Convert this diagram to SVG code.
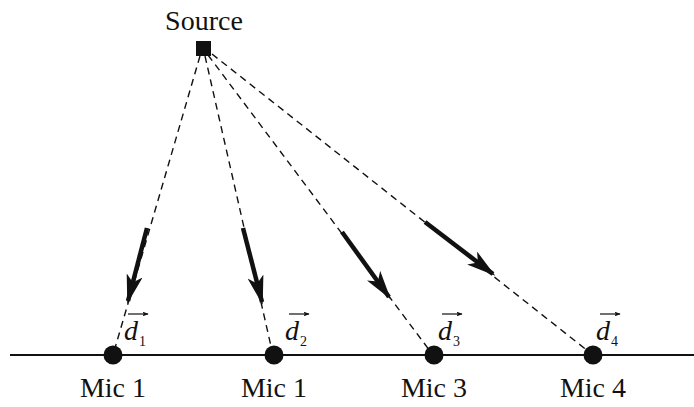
<svg xmlns="http://www.w3.org/2000/svg" width="694" height="407" viewBox="0 0 694 407">
<style>
.lbl{font-family:"Liberation Serif","Times New Roman",serif;font-size:28px;fill:#111;text-anchor:middle}
.d{font-family:"Liberation Serif","Times New Roman",serif;font-style:italic;font-size:28px;fill:#111}
.sub{font-family:"Liberation Serif","Times New Roman",serif;font-size:14px;fill:#111}
.dash{stroke:#111;stroke-width:1.4;stroke-dasharray:7,5;fill:none}
.bold{stroke:#111;stroke-width:4.5;fill:none;marker-end:url(#ah)}
.va{stroke:#111;stroke-width:1.2;fill:none;marker-end:url(#sa)}
</style>
<defs>
<marker id="ah" viewBox="0 0 10 5.6" refX="9" refY="2.8" markerWidth="6.5" markerHeight="3.64" orient="auto" markerUnits="strokeWidth">
<path d="M0,0 L10,2.8 L0,5.6 L2.5,2.8 Z" fill="#111"/>
</marker>
<marker id="sa" viewBox="0 0 10 8" refX="9" refY="4" markerWidth="5" markerHeight="4" orient="auto" markerUnits="strokeWidth">
<path d="M0,0 L10,4 L0,8 L2,4 Z" fill="#111"/>
</marker>
</defs>
<rect width="694" height="407" fill="#fff"/>
<g id="connectors">
<line x1="10" y1="355" x2="694" y2="355" stroke="#111" stroke-width="2"/>
<line class="dash" x1="200" y1="56" x2="113" y2="355"/>
<line class="dash" x1="205" y1="56" x2="273" y2="355"/>
<line class="dash" x1="208" y1="55" x2="433" y2="355"/>
<line class="dash" x1="212" y1="54" x2="593" y2="355"/>
<line class="bold" x1="147" y1="228" x2="128" y2="301"/>
<line class="bold" x1="243" y1="228" x2="262" y2="302"/>
<line class="bold" x1="342" y1="232" x2="389" y2="297"/>
<line class="bold" x1="425" y1="222" x2="493" y2="274"/>
</g>
<g id="source">
<rect x="196" y="41" width="15" height="15" fill="#111"/>
<text class="lbl" x="204" y="30">Source</text>
</g>
<g id="mic1">
<circle cx="113" cy="355" r="9.5" fill="#111"/>
<text class="lbl" x="113" y="397">Mic 1</text>
<text class="d" x="124" y="340">d</text><text class="sub" x="139" y="346">1</text>
<line class="va" x1="128" y1="314" x2="148" y2="314"/>
</g>
<g id="mic2">
<circle cx="274" cy="355" r="9.5" fill="#111"/>
<text class="lbl" x="274" y="397">Mic 1</text>
<text class="d" x="285" y="340">d</text><text class="sub" x="300" y="346">2</text>
<line class="va" x1="289" y1="314" x2="309" y2="314"/>
</g>
<g id="mic3">
<circle cx="434" cy="355" r="9.5" fill="#111"/>
<text class="lbl" x="434" y="397">Mic 3</text>
<text class="d" x="438" y="340">d</text><text class="sub" x="453" y="346">3</text>
<line class="va" x1="442" y1="314" x2="462" y2="314"/>
</g>
<g id="mic4">
<circle cx="593" cy="355" r="9.5" fill="#111"/>
<text class="lbl" x="593" y="397">Mic 4</text>
<text class="d" x="596" y="340">d</text><text class="sub" x="611" y="346">4</text>
<line class="va" x1="600" y1="314" x2="620" y2="314"/>
</g>
</svg>
